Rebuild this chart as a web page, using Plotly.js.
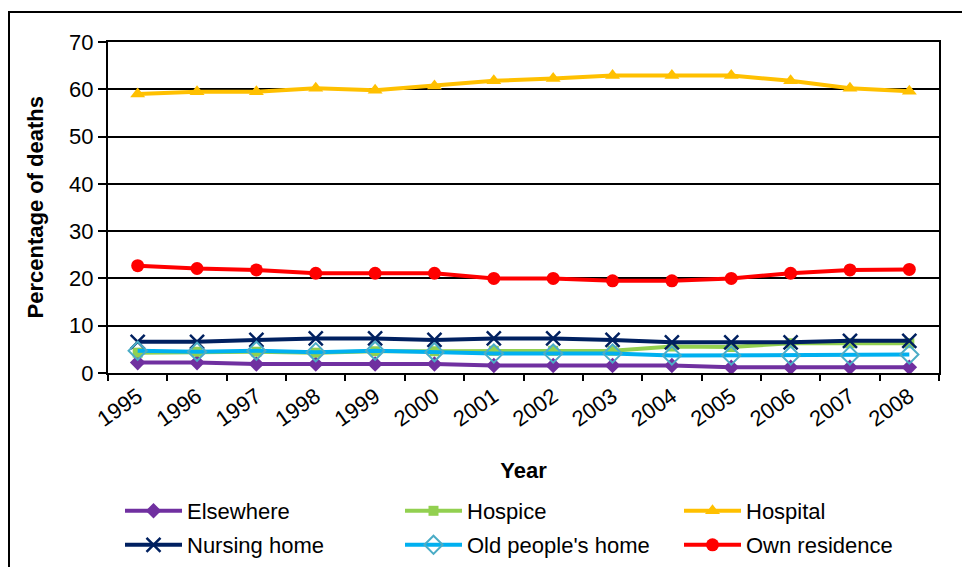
<!DOCTYPE html>
<html>
<head>
<meta charset="utf-8">
<script src="https://cdn.plot.ly/plotly-3.0.1.min.js"></script>
<style>
html,body{margin:0;padding:0;background:#fff;}
#chart{width:962px;height:567px;}
</style>
</head>
<body>
<div id="chart"></div>
<script>
const years = ['1995','1996','1997','1998','1999','2000','2001','2002','2003','2004','2005','2006','2007','2008'];
const elsewhere = [2.2,2.2,1.9,1.9,1.9,1.9,1.6,1.6,1.6,1.6,1.2,1.2,1.2,1.2];
const hospice = [4.3,4.5,4.5,4.3,4.6,4.6,4.7,4.7,4.7,5.6,5.5,6.3,6.3,6.3];
const hospital = [59.0,59.5,59.5,60.2,59.8,60.7,61.8,62.3,62.9,62.9,62.9,61.8,60.2,59.6];
const nursingHome = [6.6,6.6,7.0,7.3,7.3,7.0,7.3,7.3,7.0,6.5,6.5,6.5,6.8,6.8];
const oldPeoplesHome = [4.7,4.5,4.7,4.4,4.7,4.4,4.1,4.1,4.1,3.7,3.7,3.7,3.7,3.9];
const ownResidence = [22.7,22.1,21.8,21.1,21.1,21.1,20.0,20.0,19.5,19.5,20.0,21.1,21.8,21.9];

const seriesNames = ['Elsewhere','Hospice','Hospital','Nursing home',"Old people's home",'Own residence'];
const xTitle = 'Year';
const yTitle = 'Percentage of deaths';

function tr(name, y, color, marker, legend){
  return {x: years, y: y, name: name, type: 'scatter', mode: 'lines+markers',
    line: {color: color, width: 4}, marker: marker, legend: legend};
}
const data = [
  tr(seriesNames[0], elsewhere, '#7030A0', {symbol:'diamond', size:12, color:'#7030A0'}, 'legend'),
  tr(seriesNames[1], hospice, '#92D050', {symbol:'square', size:10, color:'#92D050'}, 'legend2'),
  tr(seriesNames[2], hospital, '#FFC000', {symbol:'triangle-up', size:13, color:'#FFC000'}, 'legend3'),
  tr(seriesNames[3], nursingHome, '#002060', {symbol:'x-thin-open', size:14, line:{color:'#002060', width:2.5}}, 'legend4'),
  tr(seriesNames[4], oldPeoplesHome, '#00B0F0', {symbol:'diamond-open', size:14, color:'#4BACC6', line:{color:'#4BACC6', width:2}}, 'legend5'),
  tr(seriesNames[5], ownResidence, '#FF0000', {symbol:'circle', size:13, color:'#FF0000'}, 'legend6')
];

const ff = 'Liberation Sans, Arial, sans-serif';
function leg(xpx, ypx){
  return {orientation: 'v', xref: 'container', yref: 'container', x: xpx/962, y: 1 - ypx/567,
    xanchor: 'left', yanchor: 'middle', font: {family: ff, size: 22, color: '#000'},
    bgcolor: 'rgba(0,0,0,0)', itemwidth: 57, borderwidth: 0};
}

const layout = {
  width: 962, height: 567,
  margin: {l: 108, r: 23, t: 42, b: 194, autoexpand: false},
  paper_bgcolor: '#fff', plot_bgcolor: '#fff',
  font: {family: ff, color: '#000'},
  showlegend: true,
  xaxis: {
    type: 'category', tickson: 'boundaries', ticks: 'outside', ticklen: 6, tickcolor: '#000', tickwidth: 2,
    showline: true, linecolor: '#000', linewidth: 2, mirror: true, showgrid: false, automargin: false,
    tickangle: -35, tickfont: {family: ff, size: 22, color: '#000'},
    title: {text: '<b>' + xTitle + '</b>', font: {family: ff, size: 22, color: '#000'}, standoff: 32},
    range: [-0.5, 13.5]
  },
  yaxis: {
    range: [0, 70], dtick: 10, ticks: 'outside', ticklen: 8, tickcolor: '#000', tickwidth: 2,
    showline: true, linecolor: '#000', linewidth: 2, mirror: true, automargin: false,
    showgrid: true, gridcolor: '#000', gridwidth: 2, zeroline: false,
    tickfont: {family: ff, size: 22, color: '#000'}
  },
  annotations: [{
    text: '<b>' + yTitle + '</b>', xref: 'paper', yref: 'paper',
    x: (35-108)/831, y: 0.5, xanchor: 'center', yanchor: 'middle', textangle: -90,
    showarrow: false, font: {family: ff, size: 22, color: '#000'}
  }],
  legend: leg(120, 511),
  legend2: leg(400, 511),
  legend3: leg(679, 511),
  legend4: leg(120, 545),
  legend5: leg(400, 545),
  legend6: leg(679, 545),
  shapes: [{type: 'rect', xref: 'paper', yref: 'paper',
    x0: (9-108)/831, x1: (975-108)/831, y0: (373-580)/331, y1: (373-12)/331,
    line: {color: '#000', width: 2}, fillcolor: 'rgba(0,0,0,0)', layer: 'below'}]
};

Plotly.newPlot('chart', data, layout, {displayModeBar: false, staticPlot: true});
</script>
</body>
</html>
